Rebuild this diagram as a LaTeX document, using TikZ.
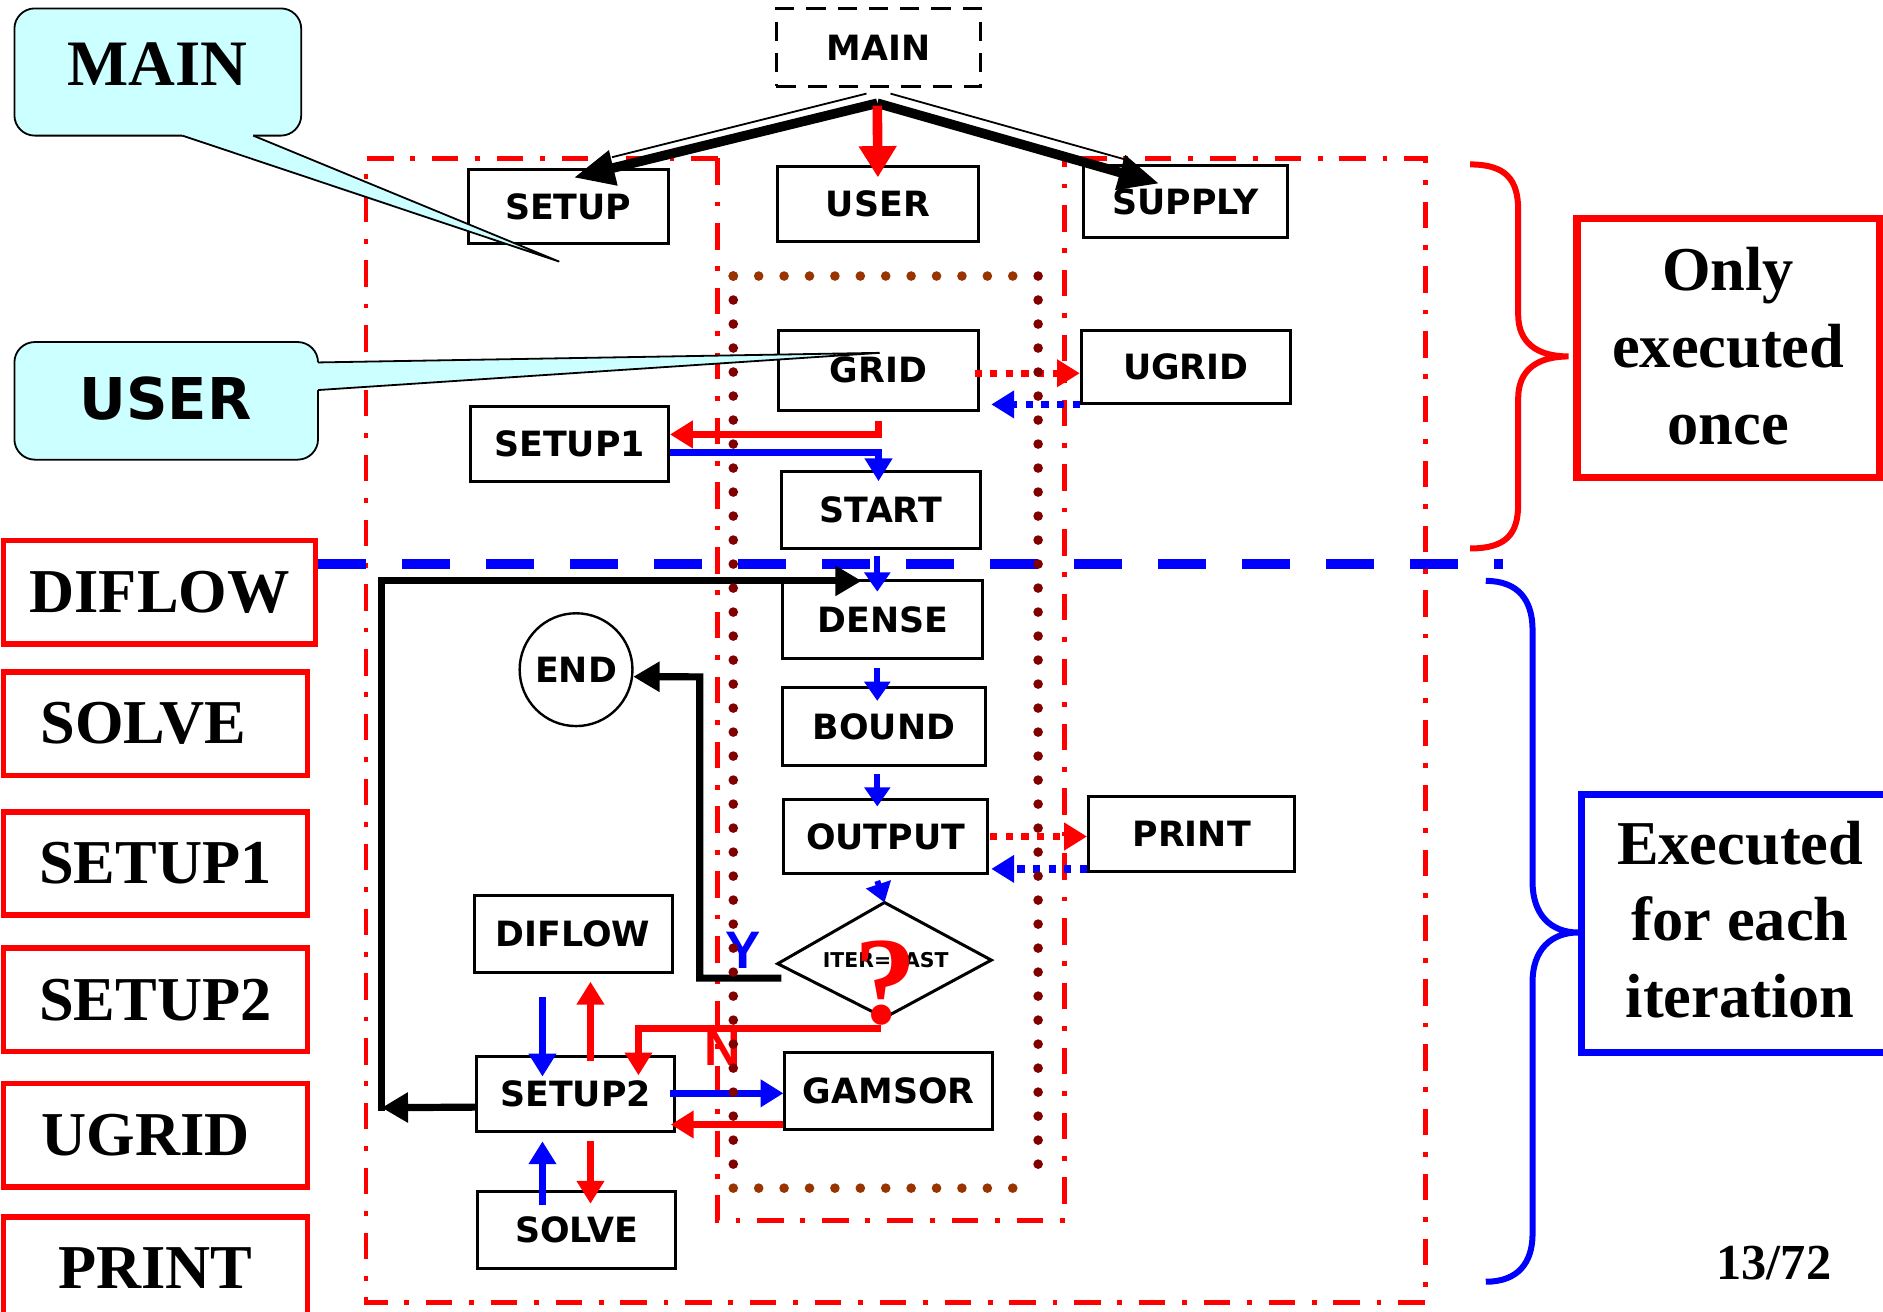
\documentclass[tikz,border=0pt]{standalone}
\usepackage{fontspec}
\setmainfont{Liberation Serif}
\newfontfamily\vfont{DejaVu Sans}
\newfontfamily\afont{Liberation Sans}
\usetikzlibrary{arrows.meta,calc}
\definecolor{cyanf}{HTML}{CCFFFF}
\definecolor{dotr}{HTML}{800000}
\definecolor{dotb}{HTML}{993300}
\begin{document}
\begin{tikzpicture}[x=1pt,y=-1pt,
  box/.style={draw,line width=2.5pt,fill=white,inner sep=0pt,font=\vfont\bfseries\fontsize{29}{34}\selectfont},
  lbox/.style={draw=red,line width=4.5pt,fill=white,inner sep=0pt,minimum width=253pt,minimum height=86pt,font=\bfseries\fontsize{52}{60}\selectfont},
  rframe/.style={red,line width=4pt,dash pattern=on 22pt off 14pt on 4pt off 14pt},
  dotv/.style={dotr,line width=8pt,line cap=round,dash pattern=on 0pt off 20pt},
  doth/.style={dotb,line width=8pt,line cap=round,dash pattern=on 0pt off 21.17pt},
  ah/.style={-{Triangle[length=19pt,width=22pt]}},
  sah/.style={-{Triangle[length=16pt,width=21pt]}},
  conn/.style={line width=6pt,ah},
  dconn/.style={line width=6pt,dash pattern=on 6pt off 7pt,ah},
  bigtxt/.style={font=\bfseries\fontsize{52}{60}\selectfont,anchor=base,inner sep=0pt},
  callout/.style={draw,fill=cyanf,line width=1.5pt,rounded corners=17pt}
]
\useasboundingbox (0,0) rectangle (1569,1092.4);
\fill[white] (0,0) rectangle (1569,1092.4);

% red dash-dot frames
\draw[rframe] (598,132) -- (305,132) -- (305,1085) -- (1188,1085) -- (1188,132) -- (887,132);
\draw[rframe] (598,132) -- (598,1017) -- (887,1017) -- (887,132);

% blue dashed separator
\draw[blue,line width=9pt,dash pattern=on 40pt off 30pt] (265,470) -- (1252,470);

% braces
\draw[red,line width=5pt] (1225,137) .. controls (1255,137) and (1265,150) .. (1265,175) -- (1265,262)
  .. controls (1265,285) and (1280,297) .. (1307,297) .. controls (1280,297) and (1265,309) .. (1265,332)
  -- (1265,420) .. controls (1265,445) and (1255,457) .. (1225,457);
\draw[blue,line width=5pt] (1238,484) .. controls (1265,484) and (1277,500) .. (1277,525) -- (1277,735)
  .. controls (1277,762) and (1292,777) .. (1315,777) .. controls (1292,777) and (1277,792) .. (1277,818)
  -- (1277,1028) .. controls (1277,1052) and (1265,1068) .. (1238,1068);

% right boxes
\draw[red,line width=6pt] (1314,182) rectangle (1566,398);
\node[bigtxt] (once1) at (1440,242) {Only};
\node[bigtxt] (once2) at (1440,306) {executed};
\node[bigtxt] (once3) at (1440,370) {once};
\draw[blue,line width=6pt] (1318,662) rectangle (1585,877);
\node[bigtxt] (each1) at (1450,720) {Executed};
\node[bigtxt] (each2) at (1450,784) {for each};
\node[bigtxt] (each3) at (1450,848) {iteration};
\node[font=\bfseries\fontsize{42}{48}\selectfont,anchor=base,inner sep=0pt] (page) at (1478,1066) {13/72};

% left red boxes
\node[lbox,minimum width=260pt] (ldiflow) at (133,493.5) {DIFLOW};
\node[lbox] (lsolve) at (129.5,603) {\hspace*{-20pt}SOLVE};
\node[lbox] (lsetup1) at (129.5,719.5) {SETUP1};
\node[lbox] (lsetup2) at (129.5,833) {SETUP2};
\node[lbox] (lugrid) at (129.5,946) {\hspace*{-16pt}UGRID};
\node[lbox] (lprint) at (129.5,1057) {PRINT};

% flow boxes
\node[box,minimum width=170pt,minimum height=65pt,dash pattern=on 16pt off 10pt] (mainb) at (732,39.5) {MAIN};
\node[box,minimum width=167pt,minimum height=62pt] (setup) at (473.5,172) {SETUP};
\node[box,minimum width=167pt,minimum height=62pt] (user) at (731.5,170) {USER};
\node[box,minimum width=170pt,minimum height=60pt] (supply) at (988,168) {SUPPLY};
\node[box,minimum width=166pt,minimum height=67pt] (grid) at (732,308.5) {GRID};
\node[box,minimum width=174pt,minimum height=61pt] (ugrid) at (988,305.5) {UGRID};
\node[box,minimum width=165pt,minimum height=62pt] (setup1) at (474.5,370) {SETUP1};
\node[box,minimum width=166pt,minimum height=64pt] (start) at (734,425) {START};
\node[box,minimum width=167pt,minimum height=65pt] (dense) at (735.5,516.5) {DENSE};
\node[box,minimum width=169pt,minimum height=65pt] (bound) at (736.5,605.5) {BOUND};
\node[box,minimum width=170pt,minimum height=62pt] (output) at (738,697) {OUTPUT};
\node[box,minimum width=172pt,minimum height=62pt] (print) at (993,695) {PRINT};
\node[box,minimum width=165pt,minimum height=64pt] (diflow) at (477.5,778) {DIFLOW};
\node[box,minimum width=165pt,minimum height=63pt] (setup2) at (479.5,911.5) {SETUP2};
\node[box,minimum width=173pt,minimum height=64pt] (gamsor) at (740.5,909) {GAMSOR};
\node[box,minimum width=165pt,minimum height=64pt] (solve) at (480.5,1025) {SOLVE};
\node[box,circle,line width=2pt,minimum size=94pt] (endc) at (480,558) {END};

% decision diamond
\coordinate (dtop) at (737,752);
\coordinate (dright) at (826,800);
\coordinate (dbot) at (737,848);
\coordinate (dleft) at (648,803);
\draw[line width=2.5pt,fill=white] (dtop) -- (dright) -- (dbot) -- (dleft) -- cycle;
\node[font=\vfont\bfseries\fontsize{17}{20}\selectfont,inner sep=0pt] (dtext) at (738,800) {ITER=LAST};
\node[red,font=\bfseries\fontsize{104}{110}\selectfont,anchor=base,inner sep=0pt] (qm) at (738,853) {?};

% MAIN fan-out
\coordinate (peak) at (731,86);
\draw[line width=1.5pt] (722,78) -- (510,131);
\draw[line width=1.5pt] (742,78) -- (938,133);
\draw[line width=8pt,line join=miter,-{Triangle[length=34pt,width=28pt]}] (peak) -- (478,148);
\draw[line width=8pt,-{Triangle[length=34pt,width=28pt]}] (peak) -- (966,153);
\draw[red,line width=8pt,-{Triangle[length=26pt,width=30pt]}] (731,88) -- ($(user.north)+(0,10)$);

% GRID / UGRID
\draw[red,dconn] (812,311) -- (ugrid.west |- 0,311);
\draw[blue,dconn] (ugrid.west |- 0,337) -- (826,337);
% GRID -> SETUP1 -> START
\draw[red,conn] (732,351) -- (732,362) -- (setup1.east |- 0,362);
\draw[blue,conn] (setup1.east |- 0,377) -- (732,377) -- (732,401);
% vertical chain
\draw[blue,line width=5pt,sah] (731,463) -- (731,493);
\draw[blue,line width=5pt,sah] (731,557) -- (731,584);
\draw[blue,line width=5pt,sah] (731,645) -- (731,672);
\draw[blue,line width=5pt,sah] (731,734) -- (dtop);
% OUTPUT / PRINT
\draw[red,dconn] (825,697) -- (print.west |- 0,697);
\draw[blue,dconn] (print.west |- 0,724) -- (826,724);

% loop back
\coordinate (lc) at (318,923);
\draw[line width=6pt,-{Triangle[length=22pt,width=24pt]}] ($(setup2.west)+(0,11)$) -- (lc);
\draw[line width=6pt,line join=miter,-{Triangle[length=22pt,width=24pt]}] (318,926) -- (318,484) -- (718,484);

% Y branch to END
\draw[line width=6pt,line join=miter,-{Triangle[length=22pt,width=24pt]}] (651,815) -- (583,815) -- (583,564) -- (endc.-7);
\node[blue,font=\afont\bfseries\fontsize{44}{48}\selectfont,inner sep=0pt] (ylab) at (619,792) {Y};

% N branch to SETUP2
\draw[red,conn,line join=miter] (734,857) -- (532,857) -- (532,896);
\node[red,font=\afont\bfseries\fontsize{42}{48}\selectfont,inner sep=0pt] (nlab) at (602,873) {N};

% SETUP2 neighbours
\draw[blue,conn] (452,831) -- (452,897);
\draw[red,conn] (492,884) -- (492,818);
\draw[blue,conn] (452,1004) -- (452,951);
\draw[red,conn] (492,951) -- (492,1003);
\draw[blue,conn] (558,911) -- (gamsor.west |- 0,911);
\draw[red,conn] (gamsor.west |- 0,937) -- (559,937);

% dotted inner rectangle
\draw[dotv] (611,230) -- (611,990);
\draw[dotv] (865,230) -- (865,990);
\draw[doth] (611,230) -- (865,230);
\draw[doth] (611,990) -- (865,990);

% callouts
\draw[callout] (12,7) rectangle (251,113);
\fill[cyanf] (152,108) -- (152,113) -- (466,218) -- (211,113) -- (211,108) -- cycle;
\draw[line width=1.5pt] (152,113) -- (466,218) -- (211,113);
\node[font=\bfseries\fontsize{54}{60}\selectfont,inner sep=0pt] (maincall) at (131,53) {MAIN};

\draw[callout] (12,285) rectangle (265,383);
\fill[cyanf] (258,302) -- (265,302) -- (733,294) -- (265,325) -- (258,325) -- cycle;
\draw[line width=1.5pt] (265,302) -- (733,294) -- (265,325);
\node[font=\vfont\bfseries\fontsize{48}{54}\selectfont,inner sep=0pt] (usercall) at (138,332) {USER};
\end{tikzpicture}
\end{document}
